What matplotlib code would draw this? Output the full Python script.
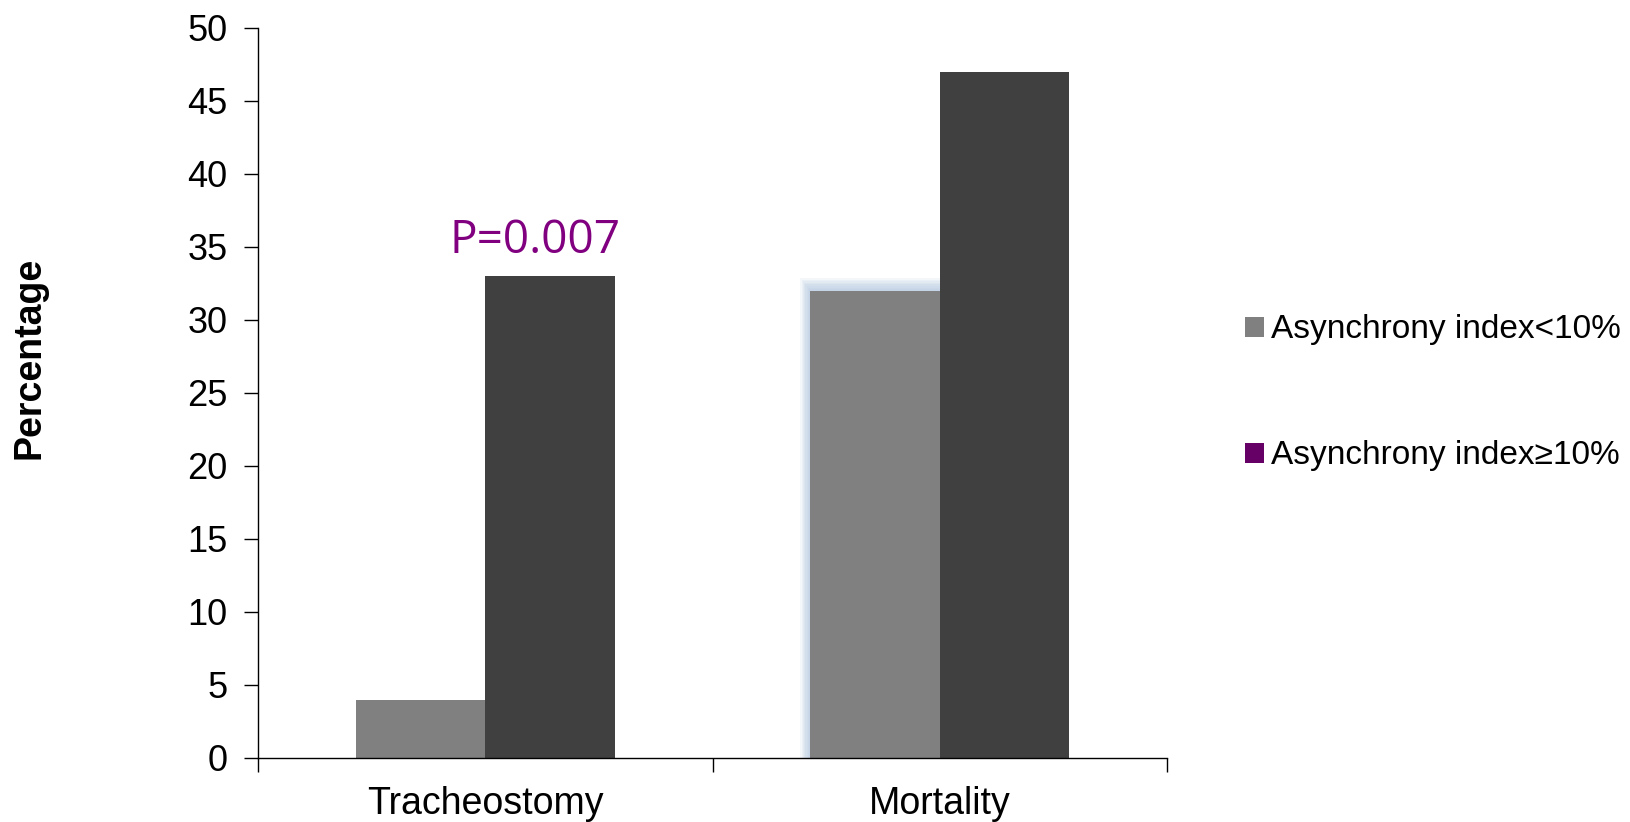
import matplotlib.pyplot as plt
from matplotlib.patches import Rectangle, Patch
import numpy as np

plt.rcParams['font.family'] = ['Liberation Sans', 'DejaVu Sans']

categories = ["Tracheostomy", "Mortality"]
low_async = [4, 32]      # Asynchrony index < 10%
high_async = [33, 47]    # Asynchrony index >= 10%
series_labels = ["Asynchrony index<10%", "Asynchrony index\u226510%"]
y_ticks = [0, 5, 10, 15, 20, 25, 30, 35, 40, 45, 50]
p_label = "P=0.007"

fig = plt.figure(figsize=(16.30, 8.22), dpi=100)
ax = fig.add_axes([0.1583, 0.0779, 0.5577, 0.8881])

x = np.arange(len(categories))
w = 0.285
gray = "#808080"
dark = "#404040"

# soft bluish glow behind the second gray bar
gx = x[1] - w
n = 8
for i in range(n):
    pad = 0.022 * (n - i) / n
    ax.add_patch(Rectangle((gx - pad, 0), w + pad, low_async[1] + pad * 40,
                           facecolor="#a9c0dc", alpha=0.12, edgecolor="none", zorder=1))

ax.bar(x - w / 2, low_async, width=w, color=gray, zorder=2)
ax.bar(x + w / 2, high_async, width=w, color=dark, zorder=2)

ax.set_xlim(-0.5, 1.5)
ax.set_ylim(0, 50)
ax.set_yticks(y_ticks)
ax.tick_params(axis="y", direction="out", length=10, width=1, labelsize=26, pad=12)

ax.set_xticks([-0.5, 0.5, 1.5])
ax.set_xticklabels([])
ax.tick_params(axis="x", direction="out", length=10, width=1)
for xi, name in zip(x, categories):
    ax.text(xi, -1.95, name, ha="center", va="top", fontsize=27,
            transform=ax.transData)

for s in ["top", "right"]:
    ax.spines[s].set_visible(False)
for s in ["left", "bottom"]:
    ax.spines[s].set_linewidth(1)
    ax.spines[s].set_color("black")

ax.text(0.11, 35.4, p_label, color="#800080", fontsize=33, ha="center",
        va="center", family=["Open Sans", "DejaVu Sans"])

fig.text(0.018, 0.565, "Percentage", rotation=90, fontsize=27, fontweight="bold",
         ha="center", va="center")

handles = [Patch(facecolor=gray, edgecolor="none"),
           Patch(facecolor="#660066", edgecolor="none")]
leg = fig.legend(handles, series_labels, loc="center left",
                 bbox_to_anchor=(0.764, 0.522), frameon=False, fontsize=24,
                 handlelength=0.55, handleheight=0.55, handletextpad=0.22,
                 labelspacing=2.85, borderpad=0, borderaxespad=0)

fig.savefig("out.png", dpi=100)
